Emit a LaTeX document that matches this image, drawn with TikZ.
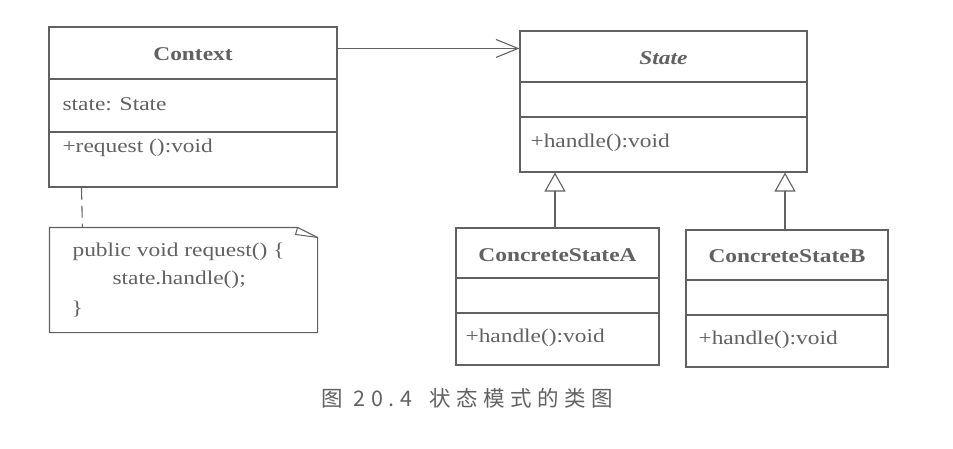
\documentclass[tikz,border=0pt]{standalone}
\usepackage{fontspec}
\setmainfont[FakeStretch=1.2]{Liberation Serif}
\newfontfamily\cjk[LetterSpace=26]{Noto Sans CJK SC}
\usetikzlibrary{arrows.meta}
\definecolor{ink}{gray}{0.38}

\tikzset{
	classbox/.style={rectangle, draw, inner sep=0pt},
	classname/.style={font=\fontsize{19.5}{22}\selectfont\bfseries},
	member/.style={font=\fontsize{19.5}{22}\selectfont, anchor=west, inner sep=0pt},
	inherit/.style={-{Triangle[open, length=19pt, width=21pt]}},
	assoc/.style={-{Straight Barb[length=22pt, width=18pt]}}
}

\begin{document}
\begin{tikzpicture}[x=1pt, y=-1pt, line width=1.1pt, color=ink]
		\useasboundingbox (0,0) rectangle (953,448);

		\node[
			classbox,
			minimum width=288pt, minimum height=160pt
		] (C) at (193,107) {};
		\draw (49,79) -- (337,79);
		\draw (49,132) -- (337,132);
		\node[classname] (Cname) at (193,54) {Context};
		\node[member] (Cattr) at (62,104) {state: State};
		\node[member] (Cop) at (62,148) {+request ():void};

		\node[
			rectangle, inner sep=0pt,
			minimum width=267pt, minimum height=104pt
		] (N) at (183.5,280) {};
		\draw (N.north west) -- ([xshift=-20pt]N.north east) -- ([yshift=-10pt]N.north east)
			-- (N.south east) -- (N.south west) -- cycle;
		\draw[line width=1pt] ([xshift=-20pt]N.north east) -- ([xshift=-22pt, yshift=-7pt]N.north east)
			-- ([yshift=-10pt]N.north east);
		\node[member] (N1) at (72,252) {public void request() \{};
		\node[member] (N2) at (112,280) {state.handle();};
		\node[member] (N3) at (71,309) {\}};

		\node[
			classbox,
			minimum width=287pt, minimum height=141pt
		] (S) at (663.5,101.5) {};
		\draw (520,82) -- (807,82);
		\draw (520,117) -- (807,117);
		\node[classname, font=\fontsize{19.5}{22}\selectfont\bfseries\itshape] (Sname) at (663.5,58) {State};
		\node[member] (Sop) at (530,143) {+handle():void};

		\node[
			classbox,
			minimum width=203pt, minimum height=137pt
		] (A) at (557.5,296.5) {};
		\draw (456,278) -- (659,278);
		\draw (456,313) -- (659,313);
		\node[classname] (Aname) at (557.5,255) {ConcreteStateA};
		\node[member] (Aop) at (465,338) {+handle():void};

		\node[
			classbox,
			minimum width=202pt, minimum height=137pt
		] (B) at (787,298.5) {};
		\draw (686,280) -- (888,280);
		\draw (686,315) -- (888,315);
		\node[classname] (Bname) at (787,256) {ConcreteStateB};
		\node[member] (Bop) at (698,340) {+handle():void};

		\draw[assoc] ([yshift=-22pt]C.north east) -- ([yshift=-22pt]C.north east -| S.west);
		\draw[dash pattern=on 12pt off 6pt] ([xshift=33pt]C.south west) -- ([xshift=33pt]N.north west);
		\draw[inherit] ([xshift=-2.5pt]A.north) -- ([xshift=-2.5pt]A.north |- S.south);
		\draw[inherit] ([xshift=-2pt]B.north) -- ([xshift=-2pt]B.north |- S.south);

		\node[font=\cjk\fontsize{21.5}{24}\selectfont] (cap) at (467.5,398) {图 20.4\hspace{0.8em}状态模式的类图};
	\end{tikzpicture}
\end{document}
